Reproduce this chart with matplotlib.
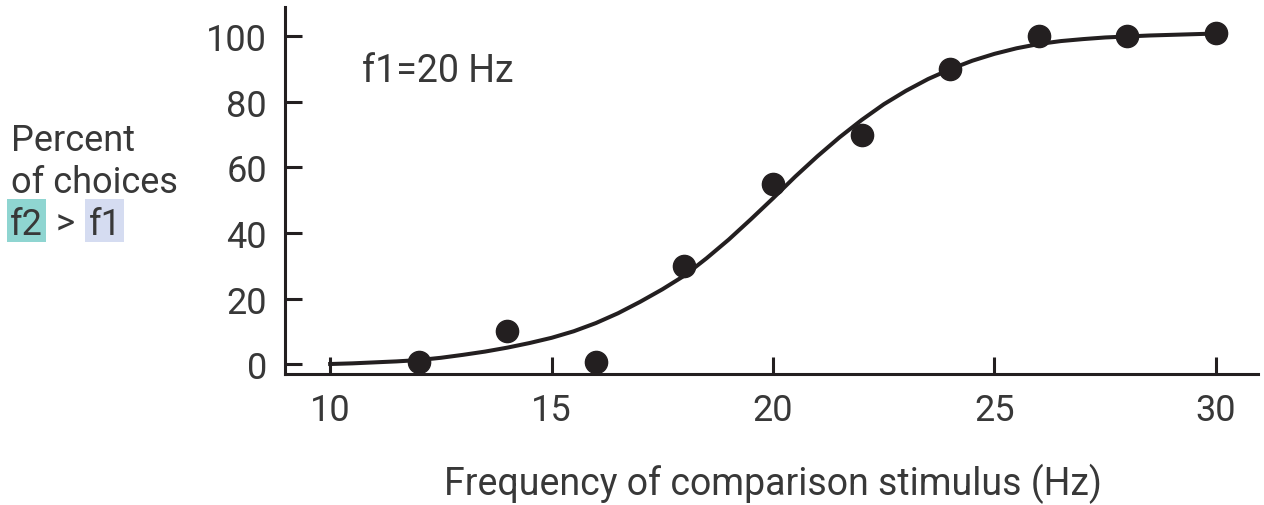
import matplotlib
matplotlib.use("Agg")
import matplotlib.pyplot as plt
from matplotlib.patches import Rectangle

# measured points
freq = [12, 14, 16, 18, 20, 22, 24, 26, 28, 30]
pct = [0.5, 10, 0.5, 30, 55, 70, 90, 100, 100, 101]

# fitted curve, every 0.5 Hz
curve_x = [10, 10.5, 11, 11.5, 12, 12.5, 13, 13.5, 14, 14.5, 15, 15.5, 16, 16.5,
           17, 17.5, 18, 18.5, 19, 19.5, 20, 20.5, 21, 21.5, 22, 22.5, 23, 23.5,
           24, 24.5, 25, 25.5, 26, 26.5, 27, 27.5, 28, 28.5, 29, 29.5, 30]
curve_y = [0, 0.2, 0.5, 0.8, 1.2, 1.9, 2.8, 3.8, 5.0, 6.4, 8.0, 10.0, 12.5, 15.5,
           19.0, 22.8, 27.0, 32.3, 38.0, 44.2, 50.6, 57.2, 63.4, 69.2, 74.5, 79.3,
           83.4, 87.0, 90.0, 92.6, 94.7, 96.4, 97.7, 98.6, 99.2, 99.7, 100.0,
           100.3, 100.5, 100.7, 100.9]

xticks = [10, 15, 20, 25, 30]
yticks = [0, 20, 40, 60, 80, 100]

ink = "#231f20"
txt = "#383838"
plt.rcParams["font.family"] = ["Roboto", "DejaVu Sans"]

W, H = 1264, 506
fig = plt.figure(figsize=(W / 100, H / 100), dpi=100)
ax = fig.add_axes([285 / W, 1 - 375 / H, (1258 - 285) / W, (375 - 8) / H])


def fx(px):
    return px / W


def fy(py):
    return 1 - py / H


ax.plot(curve_x, curve_y, color=ink, lw=2.9, solid_joinstyle="round", zorder=2)
ax.plot(freq, pct, "o", color=ink, ms=16, zorder=3)

ax.set_xlim(8.98, 30.95)
ax.set_ylim(-3.05, 109)
ax.set_xticks(xticks)
ax.set_yticks(yticks)
ax.spines[["top", "right"]].set_visible(False)
for s in ["left", "bottom"]:
    ax.spines[s].set_linewidth(2.2)
    ax.spines[s].set_color(ink)
ax.tick_params(direction="in", length=12, width=2.2, color=ink,
               labelsize=26, labelcolor=txt, pad=13)

fig.text(fx(773), fy(495), "Frequency of comparison stimulus (Hz)",
         fontsize=27, color=txt, ha="center", va="baseline")
fig.text(fx(362), fy(82), "f1=20 Hz", fontsize=27, color=txt, va="baseline")

# y label written to the left, with highlighted f2 / f1
fig.patches.append(Rectangle((fx(7), fy(243)), 39 / W, 43 / H, fc="#8fd5d1",
                             ec="none", transform=fig.transFigure, zorder=0))
fig.patches.append(Rectangle((fx(85), fy(243)), 39 / W, 43 / H, fc="#d5dcf1",
                             ec="none", transform=fig.transFigure, zorder=0))
fig.text(fx(11), fy(151), "Percent", fontsize=26, color=txt, va="baseline")
fig.text(fx(11), fy(193), "of choices", fontsize=26, color=txt, va="baseline")
fig.text(fx(10), fy(235), "f2", fontsize=26, color=txt, va="baseline")
fig.text(fx(56), fy(235), ">", fontsize=26, color=txt, va="baseline")
fig.text(fx(89), fy(235), "f1", fontsize=26, color=txt, va="baseline")

fig.savefig("out.png", dpi=100)
